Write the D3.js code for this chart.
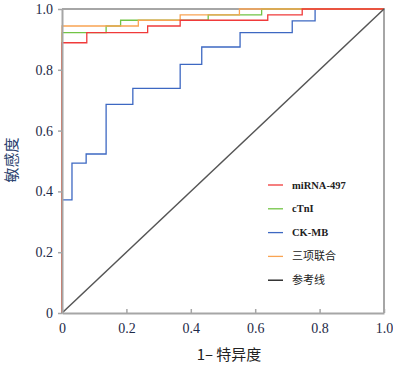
<!DOCTYPE html>
<html>
<head>
<meta charset="utf-8">
<script src="https://cdn.jsdelivr.net/npm/d3@7"></script>
<style>
  body { margin: 0; background: #fff; }
  svg { display: block; }
</style>
</head>
<body>
<svg id="svg_roc" width="393" height="366"></svg>
<script>
// ROC 曲线数据 (1-特异度, 敏感度)
var mirnaPoints = [[0, 0], [0, 0.889], [0.077, 0.922], [0.266, 0.944], [0.367, 0.963], [0.639, 0.981], [0.746, 1], [1, 1]];
var ctniPoints = [[0, 0], [0, 0.922], [0.137, 0.944], [0.182, 0.963], [0.454, 0.981], [0.62, 1], [1, 1]];
var ckmbPoints = [[0, 0], [0, 0.372], [0.031, 0.493], [0.075, 0.523], [0.137, 0.686], [0.22, 0.739], [0.367, 0.818], [0.434, 0.875], [0.553, 0.922], [0.715, 0.961], [0.786, 1], [1, 1]];
var comboPoints = [[0, 0], [0, 0.944], [0.237, 0.963], [0.367, 0.981], [0.551, 1], [1, 1]];
var refPoints = [[0, 0], [1, 1]];

var seriesNames = ["miRNA-497", "cTnI", "CK-MB", "三项联合", "参考线"];
var ticks = [0, 0.2, 0.4, 0.6, 0.8, 1.0];

var svg = d3.select("#svg_roc");
var margin = { top: 9, right: 9, bottom: 53, left: 62 };
var width = +svg.attr("width") - margin.left - margin.right;
var height = +svg.attr("height") - margin.top - margin.bottom;

var g = svg.append("g")
  .attr("transform", "translate(" + margin.left + "," + margin.top + ")");

var x = d3.scaleLinear().domain([0, 1]).range([0, width]);
var y = d3.scaleLinear().domain([0, 1]).range([height, 0]);

var tickFmt = function(d) { return d === 0 ? "0" : d3.format(".1f")(d); };
var serif = "'Liberation Serif', 'DejaVu Serif', serif";

// 上、右边框
g.append("path")
  .attr("d", "M0,0H" + width + "V" + height)
  .attr("fill", "none")
  .attr("stroke", "#a6a6a6")
  .attr("stroke-width", 2);

// 曲线
var line = d3.line()
  .x(function(d) { return x(d[0]); })
  .y(function(d) { return y(d[1]); })
  .curve(d3.curveStepAfter);

var curves = [
  { pts: ckmbPoints, color: "#3d68c2" },
  { pts: ctniPoints, color: "#72c445" },
  { pts: comboPoints, color: "#f9a453" },
  { pts: mirnaPoints, color: "#f03a3a" }
];

g.append("g").selectAll("path")
  .data(curves)
  .enter()
  .append("path")
  .attr("d", function(d) { return line(d.pts); })
  .attr("fill", "none")
  .attr("stroke", function(d) { return d.color; })
  .attr("stroke-width", 1.3);

// 参考线
g.append("path")
  .attr("d", d3.line().x(function(d) { return x(d[0]); }).y(function(d) { return y(d[1]); })(refPoints))
  .attr("fill", "none")
  .attr("stroke", "#555")
  .attr("stroke-width", 1.5);

// 坐标轴
var xAxis = g.append("g")
  .attr("transform", "translate(0," + height + ")")
  .call(d3.axisBottom(x).tickValues(ticks).tickFormat(tickFmt).tickSizeInner(-4).tickSizeOuter(0).tickPadding(10));
var yAxis = g.append("g")
  .call(d3.axisLeft(y).tickValues(ticks).tickFormat(tickFmt).tickSizeInner(4).tickSizeOuter(0).tickPadding(5));

[xAxis, yAxis].forEach(function(a) {
  a.select(".domain").attr("stroke", "#a6a6a6").attr("stroke-width", 2);
  a.selectAll(".tick line").attr("stroke", "#a6a6a6").attr("stroke-width", 1.5);
  a.selectAll(".tick text")
    .style("font-family", serif)
    .style("font-size", "14px")
    .attr("fill", "#1e2a48");
});

// 轴标题
svg.append("text")
  .attr("x", 229)
  .attr("y", 360)
  .attr("text-anchor", "middle")
  .style("font-family", "'Noto Sans CJK SC', sans-serif")
  .style("font-size", "15px")
  .attr("fill", "#222")
  .text("1– 特异度");

svg.append("text")
  .attr("transform", "translate(17,160) rotate(-90)")
  .attr("text-anchor", "middle")
  .style("font-family", "'Noto Sans CJK SC', sans-serif")
  .style("font-size", "15px")
  .attr("fill", "#2a3f6e")
  .text("敏感度");

// 图例
var legendColors = ["#f03a3a", "#72c445", "#3d68c2", "#f9a453", "#111"];
var legend = svg.append("g").selectAll("g")
  .data(seriesNames)
  .enter()
  .append("g")
  .attr("transform", function(d, i) { return "translate(268," + (185 + i * 23.8) + ")"; });

legend.append("line")
  .attr("x1", 0).attr("x2", 15)
  .attr("stroke", function(d, i) { return legendColors[i]; })
  .attr("stroke-width", 1.3);

legend.append("text")
  .attr("x", 24)
  .attr("dy", "0.35em")
  .style("font-family", function(d, i) { return i < 3 ? serif : "'Noto Sans CJK SC', sans-serif"; })
  .style("font-weight", function(d, i) { return i < 3 ? "bold" : "normal"; })
  .style("font-size", function(d, i) { return i < 3 ? "10.5px" : "11px"; })
  .attr("fill", "#222")
  .text(function(d) { return d; });
</script>
</body>
</html>
